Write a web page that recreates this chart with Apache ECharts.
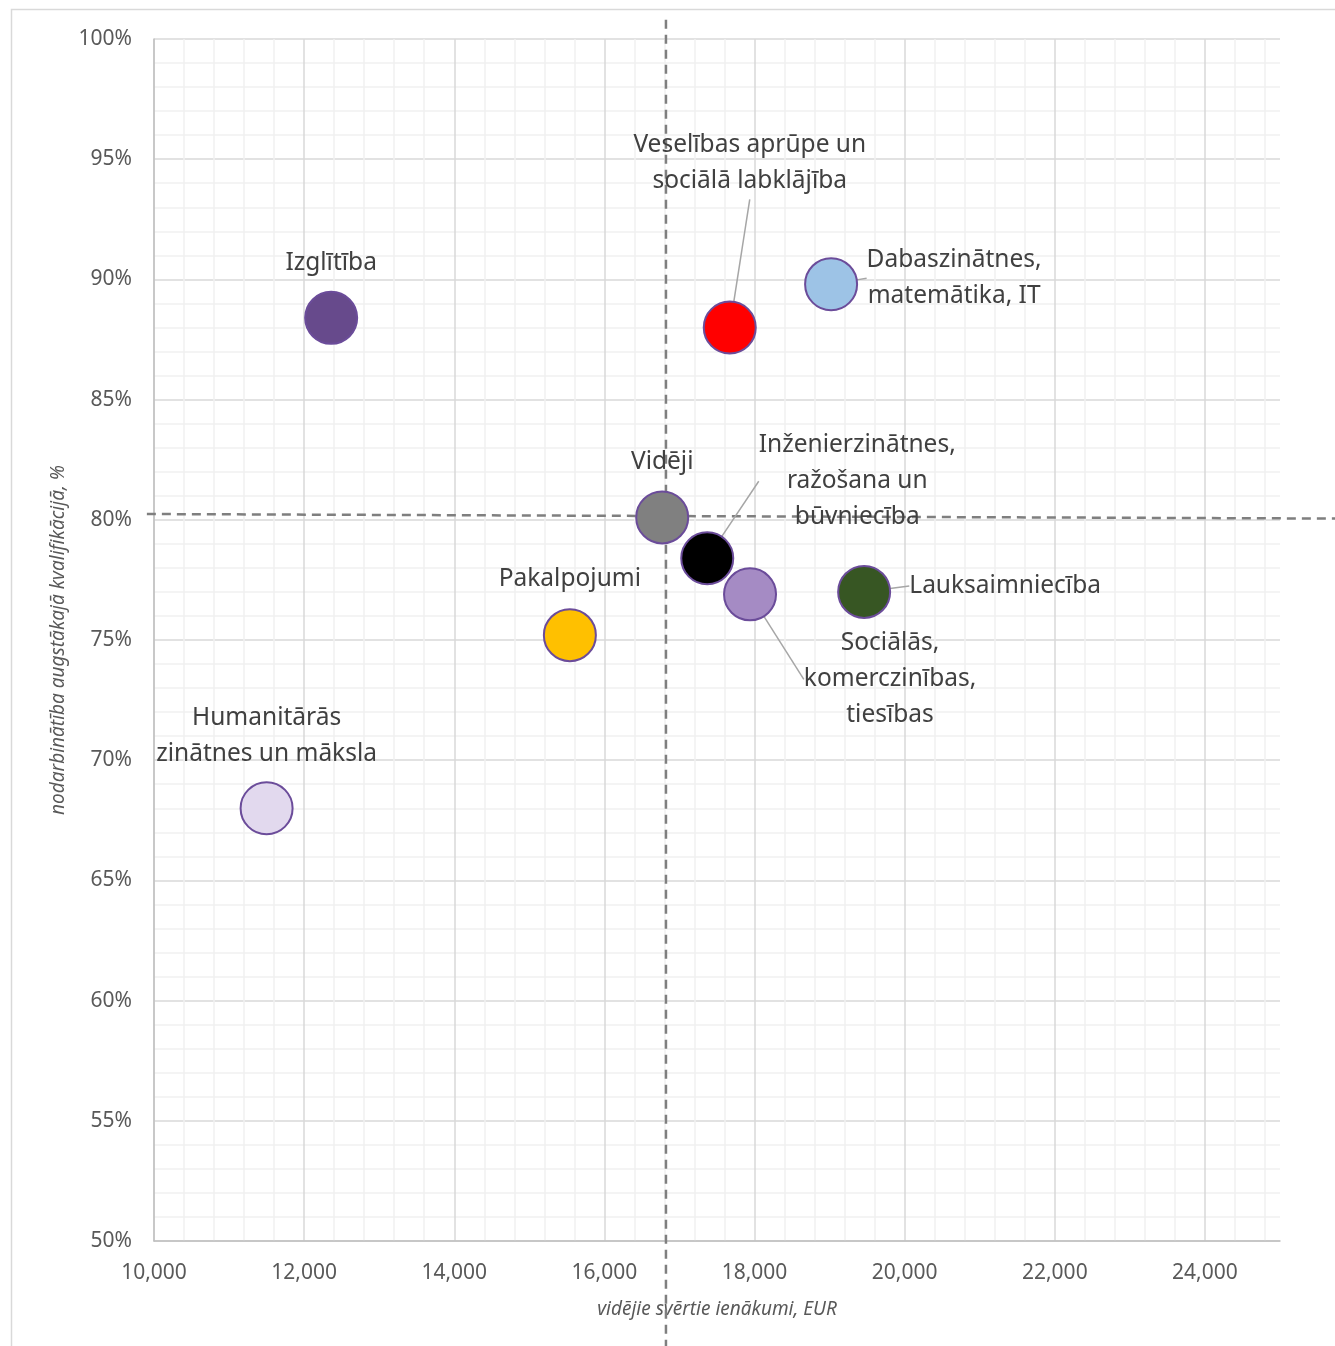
<!DOCTYPE html>
<html>
<head>
<meta charset="utf-8">
<script src="https://cdn.jsdelivr.net/npm/echarts@6/dist/echarts.min.js"></script>
<style>
  html, body { margin: 0; padding: 0; background: #fff; }
  #chart { width: 1335px; height: 1346px; }
</style>
</head>
<body>
<div id="chart"></div>
<script>
// jomas (izglītības tematiskās grupas)
const categories = [
  'Izglītība',
  'Veselības aprūpe un\nsociālā labklājība',
  'Dabaszinātnes,\nmatemātika, IT',
  'Vidēji',
  'Inženierzinātnes,\nražošana un\nbūvniecība',
  'Lauksaimniecība',
  'Sociālās,\nkomerczinības,\ntiesības',
  'Pakalpojumi',
  'Humanitārās\nzinātnes un māksla'
]
// vidējie svērtie ienākumi, EUR
const earnings = [12360, 17670, 19020, 16770, 17370, 19460, 17940, 15540, 11500]
// nodarbinātība augstākajā kvalifikācijā, %
const employment = [88.4, 88.0, 89.8, 80.1, 78.4, 77.0, 76.9, 75.2, 68.0]

// vidējo vērtību līnijas: [x1, y1, x2, y2]
const avgLines = [
  [16820, 100.8, 16820, 44],
  [9905, 80.24, 25800, 80.05]
]

const xTickStep = 2000
const yTickStep = 5

// stils
const fillColors = ['#674a8c', '#ff0000', '#9dc3e6', '#808080', '#000000', '#375623', '#a58bc4', '#ffc000', '#e2d9ee']
const labelOffsets = [[0, -55], [20, -164], [123, -6], [0, -55], [150, -77], [141, -6], [140, 85], [0, -56], [0, -72]]
const hasLeader = [false, true, true, false, true, true, true, false, false]

const chart = echarts.init(document.getElementById('chart'))

const majorMinor = ['#d9d9d9', '#f0f0f0', '#f0f0f0', '#f0f0f0', '#f0f0f0']

const option = {
  animation: false,
  textStyle: { fontFamily: 'Noto Sans' },
  graphic: [{
    type: 'rect',
    shape: { x: 11.5, y: 9.5, width: 1400, height: 1400 },
    style: { fill: 'none', stroke: '#d9d9d9', lineWidth: 1.5 },
    silent: true
  }],
  grid: { left: 154, top: 39, right: 55, bottom: 105 },
  xAxis: {
    type: 'value',
    min: 10000,
    max: 25000,
    interval: 400,
    name: 'vidējie svērtie ienākumi, EUR',
    nameLocation: 'middle',
    nameGap: 59,
    nameTextStyle: { fontStyle: 'italic', fontSize: 19, color: '#595959' },
    axisLine: { show: true, lineStyle: { color: '#bfbfbf', width: 1.5 } },
    axisTick: { show: false },
    axisLabel: {
      interval: 0,
      margin: 22,
      fontSize: 21,
      color: '#595959',
      showMaxLabel: false,
      formatter: v => (v % xTickStep === 0 ? v.toLocaleString('en-US') : '')
    },
    splitLine: { show: true, showMaxLine: false, lineStyle: { color: majorMinor, width: 1.5 } }
  },
  yAxis: {
    type: 'value',
    min: 50,
    max: 100,
    interval: 1,
    name: 'nodarbinātība augstākajā kvalifikācijā, %',
    nameLocation: 'middle',
    nameGap: 86,
    nameTextStyle: { fontStyle: 'italic', fontSize: 19, color: '#595959' },
    axisLine: { show: true, lineStyle: { color: '#bfbfbf', width: 1.5 } },
    axisTick: { show: false },
    axisLabel: {
      interval: 0,
      margin: 22,
      fontSize: 21,
      color: '#595959',
      formatter: v => (v % yTickStep === 0 ? v + '%' : '')
    },
    splitLine: { show: true, lineStyle: { color: majorMinor, width: 1.5 } }
  },
  series: [
    {
      type: 'custom',
      data: avgLines,
      clip: false,
      z: 1,
      silent: true,
      renderItem: (params, api) => {
        const p1 = api.coord([api.value(0), api.value(1)])
        const p2 = api.coord([api.value(2), api.value(3)])
        return {
          type: 'line',
          shape: { x1: p1[0], y1: p1[1], x2: p2[0], y2: p2[1] },
          style: { stroke: '#7f7f7f', lineWidth: 2.5, lineDash: [9, 6], fill: null }
        }
      }
    },
    {
      type: 'scatter',
      z: 3,
      symbolSize: 52,
      data: categories.map((name, i) => ({
        name,
        value: [earnings[i], employment[i]],
        itemStyle: { color: fillColors[i] },
        labelLine: { show: hasLeader[i] }
      })),
      itemStyle: { borderColor: '#6b4c9a', borderWidth: 2, opacity: 1 },
      label: {
        show: true,
        position: 'inside',
        formatter: p => p.name,
        fontSize: 24.5,
        lineHeight: 36,
        color: '#404040',
        align: 'center'
      },
      labelLine: { lineStyle: { color: '#a6a6a6', width: 1.5 } },
      labelLayout: p => ({
        dx: labelOffsets[p.dataIndex][0],
        dy: labelOffsets[p.dataIndex][1]
      })
    }
  ]
}

chart.setOption(option)
</script>
</body>
</html>
